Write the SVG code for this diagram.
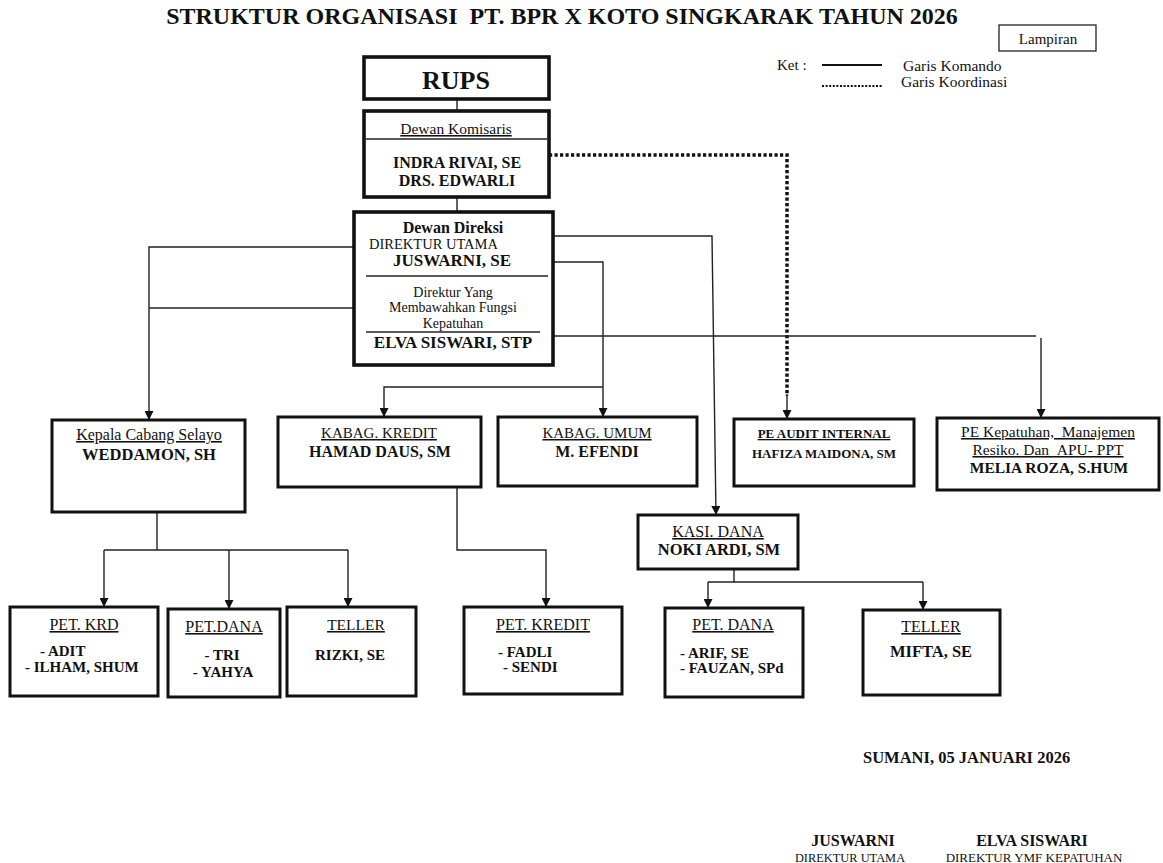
<svg xmlns="http://www.w3.org/2000/svg" width="1163" height="863" viewBox="0 0 1163 863">
<style>
text{font-family:"Liberation Serif","Times New Roman",serif;fill:#111}
.b{font-weight:bold}
.u{text-decoration:underline}
.m{text-anchor:middle}
.box{fill:#fff;stroke:#111;stroke-width:3}
.bx{fill:#fff;stroke:#111;stroke-width:3.6}
.ln{fill:none;stroke:#222;stroke-width:1.4}
.in{fill:none;stroke:#222;stroke-width:1.3}
.arr{fill:none;stroke:#222;stroke-width:1.4;marker-end:url(#ah)}
.dot{fill:none;stroke:#111;stroke-width:3.5;stroke-dasharray:3.2 2.3}
</style>
<defs>
<marker id="ah" viewBox="0 0 10 10" refX="10" refY="5" markerWidth="9" markerHeight="9" markerUnits="userSpaceOnUse" orient="auto">
<path d="M0,0 L10,5 L0,10 z" fill="#111"/>
</marker>
</defs>
<rect width="1163" height="863" fill="#fff"/>

<g id="title">
<text class="b m" x="562" y="24" font-size="24">STRUKTUR ORGANISASI &#160;PT. BPR X KOTO SINGKARAK TAHUN 2026</text>
</g>
<g id="lampiran">
<rect x="999" y="25" width="97" height="26" fill="#fff" stroke="#222" stroke-width="1.3"/>
<text class="m" x="1048" y="44" font-size="15">Lampiran</text>
</g>
<g id="legend">
<text x="777" y="70" font-size="15">Ket :</text>
<line x1="822" y1="65" x2="882" y2="65" stroke="#111" stroke-width="2"/>
<text x="903" y="71" font-size="15.5">Garis Komando</text>
<line x1="822" y1="86" x2="882" y2="86" stroke="#111" stroke-width="2.2" stroke-dasharray="2 1.6"/>
<text x="901" y="87" font-size="15.5">Garis Koordinasi</text>
</g>

<g id="connectors">
<line class="ln" x1="457" y1="99" x2="457" y2="111"/>
<line class="ln" x1="457" y1="197" x2="457" y2="212"/>
<polyline class="dot" points="549,155 787,155 787,396"/>
<line class="arr" x1="787" y1="394" x2="787" y2="419"/>
<polyline class="ln" points="366,308 149,308"/>
<polyline class="arr" points="366,247 149,247 149,420"/>
<polyline class="arr" points="368,236 712,236 716,515"/>
<polyline class="arr" points="548,262 603,262 603,417"/>
<polyline class="arr" points="603,387 384,387 384,417"/>
<line class="ln" x1="553" y1="336" x2="1036" y2="336"/>
<line class="arr" x1="1041" y1="338" x2="1041" y2="418"/>
<line class="ln" x1="157" y1="512" x2="157" y2="550"/>
<line class="ln" x1="104" y1="550" x2="348" y2="550"/>
<line class="arr" x1="104" y1="550" x2="104" y2="607"/>
<line class="arr" x1="229" y1="550" x2="229" y2="609"/>
<line class="arr" x1="348" y1="550" x2="348" y2="607"/>
<polyline class="arr" points="457,487 457,550 546,550 546,607"/>
<line class="ln" x1="734" y1="569" x2="734" y2="582"/>
<line class="ln" x1="708" y1="582" x2="923" y2="582"/>
<line class="arr" x1="708" y1="582" x2="708" y2="608"/>
<line class="arr" x1="923" y1="582" x2="923" y2="610"/>
</g>

<g id="rups">
<rect class="bx" x="364" y="57" width="185" height="42"/>
<text class="b m" x="456" y="89" font-size="26">RUPS</text>
</g>

<g id="dewan-komisaris">
<rect class="bx" x="364" y="111" width="185" height="86"/>
<line class="in" x1="366" y1="139" x2="547" y2="139"/>
<text class="u m" x="456" y="134" font-size="15.5">Dewan Komisaris</text>
<text class="b m" x="457" y="168" font-size="16">INDRA RIVAI, SE</text>
<text class="b m" x="457" y="186" font-size="16">DRS. EDWARLI</text>
</g>

<g id="dewan-direksi">
<rect class="bx" x="354" y="212" width="199" height="153"/>
<text class="b m" x="453" y="233" font-size="16">Dewan Direksi</text>
<text x="369" y="249" font-size="14.5">DIREKTUR UTAMA</text>
<text class="b m" x="452" y="266" font-size="17">JUSWARNI, SE</text>
<line class="in" x1="366" y1="276" x2="548" y2="276"/>
<text class="m" x="453" y="297" font-size="14">Direktur Yang</text>
<text class="m" x="453" y="312" font-size="14">Membawahkan Fungsi</text>
<text class="m" x="453" y="328" font-size="14">Kepatuhan</text>
<line class="in" x1="366" y1="332" x2="540" y2="332"/>
<text class="b m" x="453" y="348" font-size="17">ELVA SISWARI, STP</text>
</g>

<g id="kepala-cabang">
<rect class="box" x="52" y="420" width="193" height="92"/>
<text class="u m" x="149" y="440" font-size="16">Kepala Cabang Selayo</text>
<text class="b m" x="149" y="460" font-size="16.5">WEDDAMON, SH</text>
</g>

<g id="kabag-kredit">
<rect class="box" x="278" y="417" width="203" height="70"/>
<text class="u m" x="379" y="438" font-size="15">KABAG. KREDIT</text>
<text class="b m" x="380" y="457" font-size="16">HAMAD DAUS, SM</text>
</g>

<g id="kabag-umum">
<rect class="box" x="498" y="417" width="199" height="69"/>
<text class="u m" x="597" y="438" font-size="15">KABAG. UMUM</text>
<text class="b m" x="597" y="457" font-size="16">M. EFENDI</text>
</g>

<g id="pe-audit">
<rect class="box" x="734" y="419" width="180" height="67"/>
<text class="b u m" x="824" y="438" font-size="13">PE AUDIT INTERNAL</text>
<text class="b m" x="824" y="458" font-size="13">HAFIZA MAIDONA, SM</text>
</g>

<g id="pe-kepatuhan">
<rect class="box" x="937" y="418" width="222" height="72"/>
<text class="u m" x="1048" y="437" font-size="15.5">PE Kepatuhan, &#160;Manajemen</text>
<text class="u m" x="1048" y="455" font-size="15.5">Resiko. Dan &#160;APU- PPT</text>
<text class="b m" x="1049" y="473" font-size="15.5">MELIA ROZA, S.HUM</text>
</g>

<g id="kasi-dana">
<rect class="box" x="638" y="515" width="160" height="54"/>
<text class="u m" x="718" y="537" font-size="16">KASI. DANA</text>
<text class="b m" x="719" y="555" font-size="16.5">NOKI ARDI, SM</text>
</g>

<g id="pet-krd">
<rect class="box" x="10" y="607" width="148" height="89"/>
<text class="u m" x="84" y="630" font-size="16">PET. KRD</text>
<text class="b" x="40" y="656" font-size="15">- ADIT</text>
<text class="b" x="25" y="672" font-size="15">- ILHAM, SHUM</text>
</g>

<g id="pet-dana-1">
<rect class="box" x="168" y="609" width="112" height="88"/>
<text class="u m" x="224" y="632" font-size="16">PET.DANA</text>
<text class="b m" x="222" y="660" font-size="15">- TRI</text>
<text class="b m" x="223" y="677" font-size="15">- YAHYA</text>
</g>

<g id="teller-1">
<rect class="box" x="287" y="607" width="129" height="89"/>
<text class="u m" x="356" y="630" font-size="15.5">TELLER</text>
<text class="b m" x="350" y="660" font-size="15">RIZKI, SE</text>
</g>

<g id="pet-kredit">
<rect class="box" x="464" y="607" width="158" height="87"/>
<text class="u m" x="543" y="630" font-size="16">PET. KREDIT</text>
<text class="b" x="498" y="657" font-size="15">- FADLI</text>
<text class="b" x="503" y="672" font-size="15">- SENDI</text>
</g>

<g id="pet-dana-2">
<rect class="box" x="665" y="608" width="138" height="89"/>
<text class="u m" x="733" y="630" font-size="16">PET. DANA</text>
<text class="b" x="680" y="658" font-size="15">- ARIF, SE</text>
<text class="b" x="680" y="673" font-size="15">- FAUZAN, SPd</text>
</g>

<g id="teller-2">
<rect class="box" x="863" y="610" width="137" height="85"/>
<text class="u m" x="931" y="632" font-size="16">TELLER</text>
<text class="b m" x="931" y="657" font-size="16.5">MIFTA, SE</text>
</g>

<g id="signature">
<text class="b" x="863" y="763" font-size="16.5">SUMANI, 05 JANUARI 2026</text>
<text class="b m" x="853" y="846" font-size="16">JUSWARNI</text>
<text class="m" x="850" y="862" font-size="12.4">DIREKTUR UTAMA</text>
<text class="b m" x="1032" y="846" font-size="16">ELVA SISWARI</text>
<text class="m" x="1034" y="862" font-size="13">DIREKTUR YMF KEPATUHAN</text>
</g>
</svg>
